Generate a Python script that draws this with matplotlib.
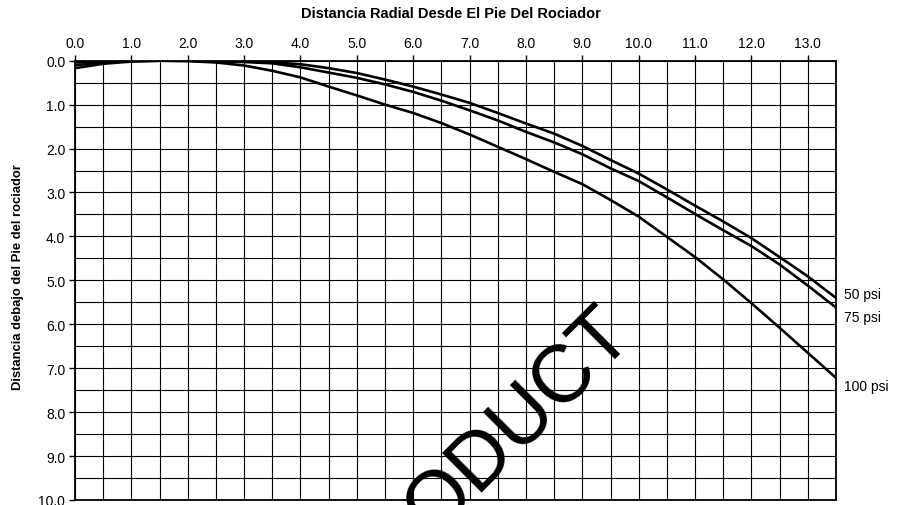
import matplotlib
matplotlib.use("Agg")
import matplotlib.pyplot as plt
from matplotlib import font_manager

# ---- data ----
radial_distance = [0.0, 0.5, 1.0, 1.5, 2.0, 2.5, 3.0, 3.5, 4.0, 4.5, 5.0, 5.5, 6.0, 6.5,
                   7.0, 7.5, 8.0, 8.5, 9.0, 9.5, 10.0, 10.5, 11.0, 11.5, 12.0, 12.5, 13.0, 13.5]
drop_50psi = [0.04, 0.015, 0.0, 0.0, 0.0, 0.005, 0.015, 0.04, 0.08, 0.17, 0.28, 0.43, 0.59, 0.77,
              0.96, 1.19, 1.43, 1.66, 1.94, 2.26, 2.57, 2.93, 3.30, 3.66, 4.04, 4.47, 4.91, 5.40]
drop_75psi = [0.10, 0.04, 0.01, 0.0, 0.0, 0.01, 0.03, 0.06, 0.15, 0.27, 0.39, 0.54, 0.71, 0.91,
              1.13, 1.36, 1.62, 1.86, 2.13, 2.45, 2.74, 3.11, 3.49, 3.86, 4.22, 4.64, 5.12, 5.62]
drop_100psi = [0.17, 0.07, 0.02, 0.0, 0.01, 0.04, 0.11, 0.23, 0.38, 0.59, 0.79, 1.00, 1.19, 1.42,
               1.68, 1.96, 2.24, 2.53, 2.81, 3.17, 3.55, 4.01, 4.47, 4.98, 5.52, 6.08, 6.65, 7.22]
series_labels = ["50 psi", "75 psi", "100 psi"]
x_ticks = [0, 1, 2, 3, 4, 5, 6, 7, 8, 9, 10, 11, 12, 13]
y_ticks = [0, 1, 2, 3, 4, 5, 6, 7, 8, 9, 10]
title_text = "Distancia Radial Desde El Pie Del Rociador"
ylabel_text = "Distancia debajo del Pie del rociador"
watermark_text = "ODUCT"

available = {f.name for f in font_manager.fontManager.ttflist}
narrow = "Liberation Sans Narrow" if "Liberation Sans Narrow" in available else "Liberation Sans"
plt.rcParams['font.family'] = ['Liberation Sans', 'DejaVu Sans']

fig = plt.figure(figsize=(9.01, 5.06), dpi=100)
ax = fig.add_axes([75 / 901, 1 - 501 / 506, (836 - 75) / 901, (501 - 61.7) / 506])

ax.set_xlim(0, 13.5)
ax.set_ylim(10, 0)

ax.set_xticks(x_ticks)
ax.set_xticklabels([f"{v:.1f}" for v in x_ticks])
ax.set_yticks(y_ticks)
ax.set_yticklabels([f"{v:.1f}" for v in y_ticks])
ax.set_xticks([v + 0.5 for v in x_ticks], minor=True)
ax.set_yticks([v + 0.5 for v in y_ticks[:-1]], minor=True)
ax.xaxis.tick_top()
ax.tick_params(axis='both', which='major', direction='out', length=4, width=1,
               labelsize=10, colors='black', pad=3)
ax.tick_params(axis='both', which='minor', length=0)
ax.tick_params(axis='x', pad=4)

ax.grid(True, which='both', color='black', linewidth=0.8)
ax.set_axisbelow(True)
for s in ax.spines.values():
    s.set_linewidth(1.3)
    s.set_color('black')

for ys, lab in zip([drop_50psi, drop_75psi, drop_100psi], series_labels):
    ax.plot(radial_distance, ys, color='black', linewidth=1.9, clip_on=True)

# end labels
label_y = [5.30, 5.83, 7.40]
for lab, yy in zip(series_labels, label_y):
    ax.text(13.65, yy, lab, fontsize=10, ha='left', va='center', clip_on=False)

fig.text(0.5, 1 - 14 / 506, title_text, ha='center', va='center', fontsize=10.5,
         fontweight='bold', family=[narrow, 'DejaVu Sans'])
fig.text(18 / 901, 1 - 277.5 / 506, ylabel_text, ha='center', va='center', rotation=90,
         fontsize=9.4, fontweight='bold', family=[narrow, 'DejaVu Sans'])

fig.text(533.5 / 901, 1 - 437.5 / 506, watermark_text, ha='center', va='baseline',
         rotation=45, rotation_mode='anchor', fontsize=58, color='black')

fig.savefig("out.png", dpi=100)
